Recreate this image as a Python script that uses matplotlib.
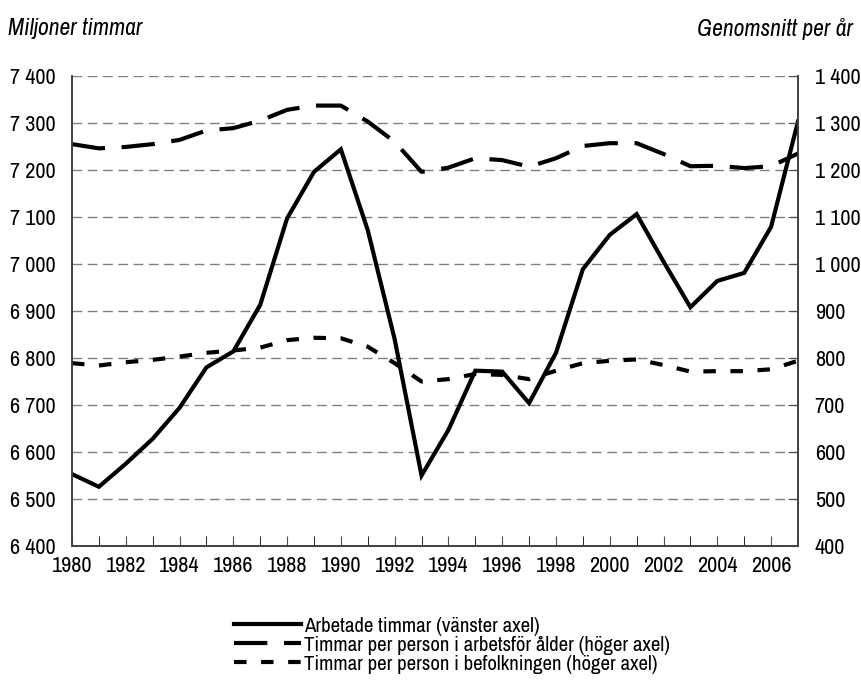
import numpy as np
import matplotlib
matplotlib.use('Agg')
import matplotlib.pyplot as plt
from matplotlib.ticker import FuncFormatter

plt.rcParams['font.family'] = ['Archivo Narrow', 'DejaVu Sans']

years = np.arange(1980, 2008)

# Arbetade timmar, miljoner (vänster axel)
arbetade = [6553, 6526, 6575, 6628, 6694, 6780, 6814, 6913, 7097, 7196,
            7244, 7072, 6840, 6550, 6647, 6773, 6771, 6704, 6811, 6989,
            7062, 7106, 7005, 6908, 6964, 6981, 7079, 7303]

# Timmar per person i arbetsför ålder (höger axel)
arbetsfor = [1255, 1246, 1249, 1255, 1264, 1284, 1289, 1305, 1328, 1337,
             1337, 1303, 1260, 1196, 1205, 1225, 1221, 1207, 1225, 1251,
             1257, 1257, 1234, 1208, 1209, 1204, 1208, 1235]

# Timmar per person i befolkningen (höger axel)
befolkning = [789, 784, 791, 796, 803, 811, 816, 822, 838, 843,
              842, 824, 789, 750, 755, 766, 764, 755, 773, 789,
              794, 797, 785, 771, 772, 772, 776, 794]

font = 16

def space_fmt(v, pos):
    return f'{int(round(v)):,}'.replace(',', ' ')

fig = plt.figure(figsize=(8.61, 6.82), dpi=100)
ax = fig.add_axes([0.0836, 0.1994, 0.8432, 0.6892])
ax2 = ax.twinx()

ax.set_ylim(6400, 7400)
ax2.set_ylim(400, 1400)
ax.set_xlim(1980, 2007)

ax.set_yticks(np.arange(6400, 7401, 100))
ax2.set_yticks(np.arange(400, 1401, 100))
ax.set_xticks(np.arange(1980, 2007, 2))
ax.set_xticks(np.arange(1980, 2008, 1), minor=True)
ax.yaxis.set_major_formatter(FuncFormatter(space_fmt))
ax2.yaxis.set_major_formatter(FuncFormatter(space_fmt))

for y in np.arange(6500, 7401, 100):
    ax.axhline(y, color='#808080', lw=1, dashes=(7, 4), zorder=0)

l1, = ax.plot(years, arbetade, color='black', lw=3, solid_joinstyle='miter',
              label='Arbetade timmar (vänster axel)')
l2, = ax2.plot(years, arbetsfor, color='black', lw=3, dashes=(8, 4),
               label='Timmar per person i arbetsför ålder (höger axel)')
l3, = ax2.plot(years, befolkning, color='black', lw=3, dashes=(3, 3.5),
               label='Timmar per person i befolkningen (höger axel)')

for a in (ax, ax2):
    a.spines['top'].set_visible(False)
    for s in ('left', 'right', 'bottom'):
        a.spines[s].set_color('#404040')
        a.spines[s].set_linewidth(1.2)
    a.tick_params(labelsize=font, colors='#505050', labelcolor='black')

ax.tick_params(axis='x', which='both', direction='in', length=7, pad=7)
ax.tick_params(axis='y', direction='in', length=0, pad=12)
ax2.tick_params(axis='y', direction='in', length=7, pad=12)

fig.text(0.009, 0.958, 'Miljoner timmar', fontsize=font + 1, style='italic', ha='left', va='center')
fig.text(0.991, 0.958, 'Genomsnitt per år', fontsize=font + 1, style='italic', ha='right', va='center')

fig.legend(handles=[l1, l2, l3], loc='upper left', bbox_to_anchor=(0.26, 0.111),
           frameon=False, fontsize=font - 1, handlelength=3.2, handletextpad=0.15,
           labelspacing=0.0, borderpad=0)

fig.savefig('out.png', dpi=100)
